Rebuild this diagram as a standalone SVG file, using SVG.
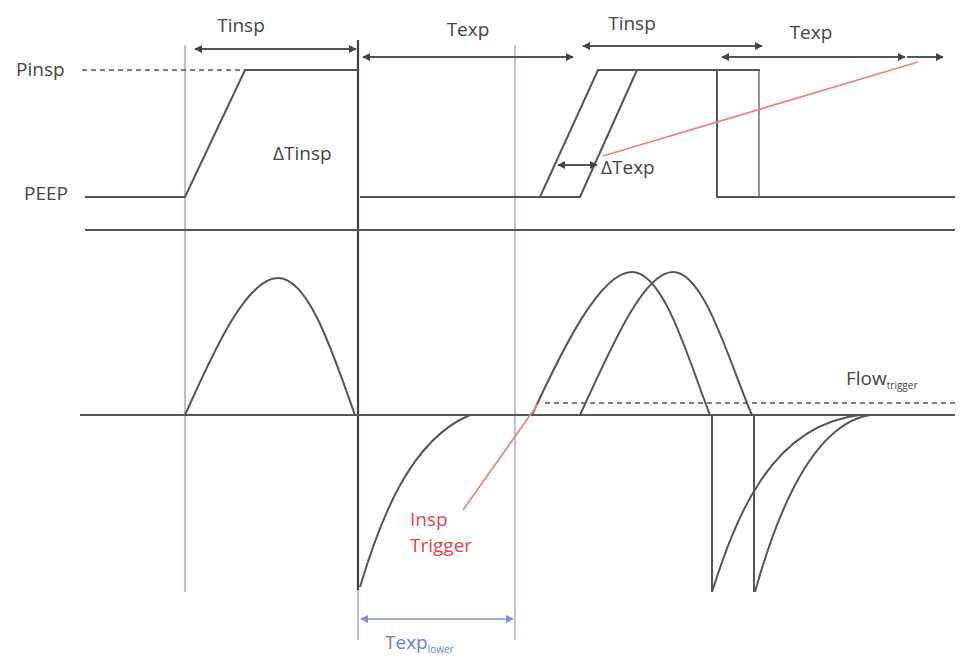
<svg xmlns="http://www.w3.org/2000/svg" width="960" height="659" viewBox="0 0 960 659">
<style>
.t{font-family:"Open Sans","Liberation Sans",sans-serif;font-size:19px;fill:#444}
.sub{font-size:10px}
.w{fill:none;stroke:#555;stroke-width:2}
.thin{fill:none;stroke:#666;stroke-width:1.4}
.dash{fill:none;stroke:#555;stroke-width:1.6;stroke-dasharray:5 4}
.blue{fill:none;stroke:#9aa6d8;stroke-width:1.4}
.red{fill:none;stroke:#e8868c;stroke-width:1.8}
.ar{fill:none;stroke:#555;stroke-width:2}
.arb{fill:none;stroke:#9fb0dc;stroke-width:2}
</style>
<defs>
<marker id="ah" viewBox="0 0 10 10" refX="9" refY="5" markerWidth="4" markerHeight="4" orient="auto-start-reverse">
<path d="M0,0 L10,5 L0,10 Z" fill="#444"/>
</marker>
<marker id="ahb" viewBox="0 0 10 10" refX="9" refY="5" markerWidth="4" markerHeight="4" orient="auto-start-reverse">
<path d="M0,0 L10,5 L0,10 Z" fill="#7f93d0"/>
</marker>
</defs>
<rect width="960" height="659" fill="#fff"/>

<g id="guides">
<line class="blue" x1="185" y1="45" x2="185" y2="592"/>
<line class="blue" x1="515" y1="45" x2="515" y2="640"/>
<line class="blue" x1="358" y1="590" x2="358" y2="640"/>
<line x1="358" y1="40" x2="358" y2="590" stroke="#3f3f55" stroke-width="2.2"/>
</g>

<g id="pressure">
<path class="dash" d="M82,70 H240"/>
<path class="w" d="M85,197 H185 L245,70 H358"/>
<path class="w" d="M360,197 H540 L598,70 H760"/>
<path class="w" d="M540,197 H580 L637,70"/>
<path class="w" d="M717,70 V197 H955"/>
<path class="thin" d="M759,70 V197"/>
<line class="w" x1="85" y1="230" x2="955" y2="230"/>
</g>

<g id="flow">
<line class="w" x1="80" y1="415" x2="955" y2="415"/>
<path class="dash" d="M545,403 H955"/>
<path class="w" d="M185,415 C210,360 245,278 278,278 C310,278 335,360 355,415"/>
<path class="w" d="M360,587 C380,520 410,440 470,415"/>
<path class="w" d="M532,415 C562,350 600,272 632,272 C665,272 690,365 710,415 H712 V592"/>
<path class="w" d="M580,415 C610,350 643,272 673,272 C705,272 730,365 752,415 H754 V592"/>
<path class="w" d="M712,592 C735,520 770,425 860,415"/>
<path class="w" d="M755,592 C775,520 810,425 870,415"/>
</g>

<g id="connectors">
<line class="ar" x1="195" y1="49" x2="356" y2="49" marker-start="url(#ah)" marker-end="url(#ah)"/>
<line class="ar" x1="363" y1="57" x2="573" y2="57" marker-start="url(#ah)" marker-end="url(#ah)"/>
<line class="ar" x1="583" y1="46" x2="762" y2="46" marker-start="url(#ah)" marker-end="url(#ah)"/>
<line class="ar" x1="722" y1="57" x2="905" y2="57" marker-start="url(#ah)" marker-end="url(#ah)"/>
<line class="ar" x1="907" y1="57" x2="943" y2="57" marker-end="url(#ah)"/>
<line class="ar" x1="558" y1="165" x2="597" y2="165" stroke-width="1.6" marker-start="url(#ah)" marker-end="url(#ah)"/>
<line class="arb" x1="361" y1="619" x2="513" y2="619" marker-start="url(#ahb)" marker-end="url(#ahb)"/>
<line class="red" x1="603" y1="156" x2="918" y2="62"/>
<line class="red" x1="538" y1="404" x2="463" y2="510"/>
</g>

<g id="labels">
<text class="t" x="241" y="32" text-anchor="middle">Tinsp</text>
<text class="t" x="468" y="36" text-anchor="middle">Texp</text>
<text class="t" x="632" y="30" text-anchor="middle">Tinsp</text>
<text class="t" x="811" y="39" text-anchor="middle">Texp</text>
<text class="t" x="16" y="76">Pinsp</text>
<text class="t" x="24" y="200">PEEP</text>
<text class="t" x="273" y="160">ΔTinsp</text>
<text class="t" x="601" y="174">ΔTexp</text>
<text class="t" x="846" y="385">Flow<tspan class="sub" dy="4">trigger</tspan></text>
<text class="t" x="410" y="526" style="fill:#e0454e">Insp</text>
<text class="t" x="410" y="552" style="fill:#e0454e">Trigger</text>
<text class="t" x="385" y="649" style="fill:#5f7fd6">Texp<tspan class="sub" dy="4">lower</tspan></text>
</g>
</svg>
